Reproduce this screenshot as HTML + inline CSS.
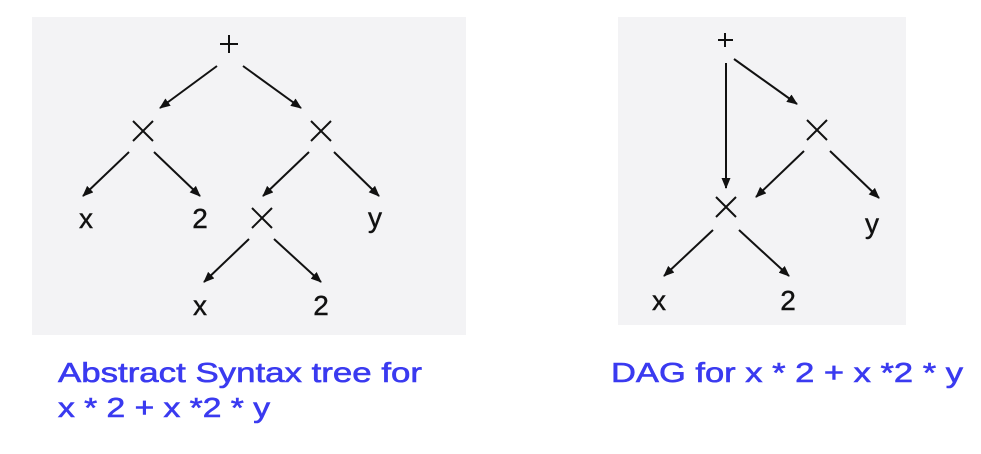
<!DOCTYPE html>
<html><head><style>
html,body{margin:0;padding:0;background:#fff;}
svg{display:block;}
</style></head><body>
<svg width="981" height="454" viewBox="0 0 981 454" xmlns="http://www.w3.org/2000/svg">
<defs>
<marker id="a" markerWidth="11" markerHeight="9" refX="10" refY="4.5" orient="auto" markerUnits="userSpaceOnUse">
<path d="M0,0 L11,4.5 L0,9 Z" fill="#111"/>
</marker>
</defs>
<rect x="32" y="17" width="434" height="318" fill="#f3f3f5"/>
<rect x="618" y="17" width="288" height="308" fill="#f3f3f5"/>
<g stroke="#111" stroke-width="2" fill="none" marker-end="url(#a)">
<line x1="217" y1="66" x2="160" y2="108"/>
<line x1="243" y1="66" x2="301" y2="108"/>
<line x1="129" y1="152" x2="83" y2="196"/>
<line x1="154" y1="152" x2="200" y2="196"/>
<line x1="309" y1="152" x2="263" y2="196"/>
<line x1="334" y1="152" x2="379" y2="196"/>
<line x1="249" y1="239" x2="204" y2="282"/>
<line x1="274" y1="239" x2="321" y2="282"/>
<line x1="726" y1="63" x2="726" y2="188"/>
<line x1="734" y1="59" x2="797" y2="104"/>
<line x1="804" y1="151" x2="756" y2="197"/>
<line x1="830" y1="151" x2="879" y2="198"/>
<line x1="713" y1="230" x2="664" y2="276"/>
<line x1="739" y1="230" x2="789" y2="276"/>
</g>
<g stroke="#111" stroke-width="2">
<path d="M220,44 h18 M229,35 v18"/>
<path d="M133,121 l20,20 M153,121 l-20,20"/>
<path d="M311,121 l20,20 M331,121 l-20,20"/>
<path d="M252,208 l20,20 M272,208 l-20,20"/>
<path d="M718,40 h15 M725,33 v14"/>
<path d="M807,120 l20,20 M827,120 l-20,20"/>
<path d="M716,197 l20,20 M736,197 l-20,20"/>
</g>
<g font-family="Liberation Sans, sans-serif" font-size="28" fill="#111" stroke="#111" stroke-width="0.4" text-anchor="middle">
<text x="86" y="228">x</text>
<text x="200" y="228">2</text>
<text x="375" y="227">y</text>
<text x="200" y="315">x</text>
<text x="321" y="315">2</text>
<text x="872" y="233">y</text>
<text x="659" y="310">x</text>
<text x="788" y="310">2</text>
</g>
<g font-family="Liberation Sans, sans-serif" font-size="28" fill="#3a3af0" stroke="#3a3af0" stroke-width="0.6">
<text x="58" y="382" textLength="364" lengthAdjust="spacingAndGlyphs">Abstract Syntax tree for</text>
<text x="58" y="417" textLength="212" lengthAdjust="spacingAndGlyphs">x * 2 + x *2 * y</text>
<text x="611" y="382" textLength="352" lengthAdjust="spacingAndGlyphs">DAG for  x * 2 + x *2 * y</text>
</g>
</svg>
</body></html>
